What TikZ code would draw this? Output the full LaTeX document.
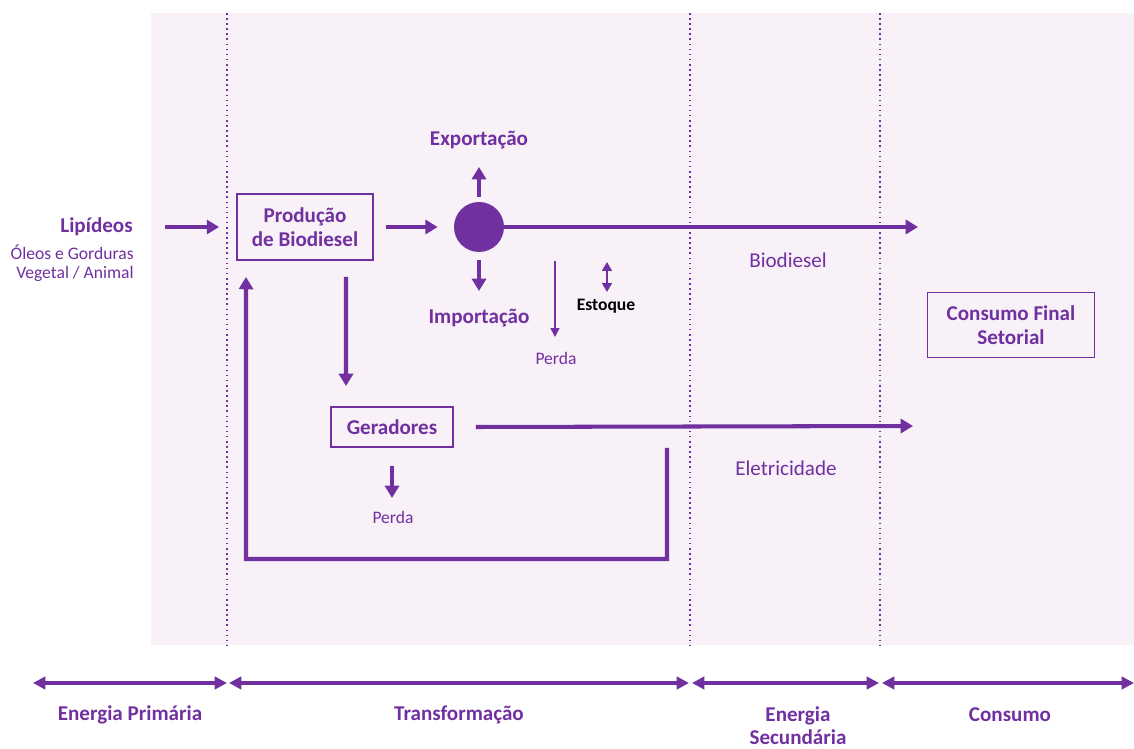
\documentclass[tikz,border=0pt]{standalone}
\usepackage{fontspec}
\setmainfont{Carlito}
\usetikzlibrary{arrows.meta}
\definecolor{vio}{HTML}{7030A0}
\definecolor{panel}{HTML}{F8F1F8}
\begin{document}
\begin{tikzpicture}[x=0.02cm,y=-0.02cm,
  flow/.style={vio, line width=2.3pt, -{Triangle[length=7pt,width=8pt]}},
  thinflow/.style={vio, line width=0.9pt, -{Triangle[length=5pt,width=5pt]}},
  span/.style={vio, line width=1.8pt, {Triangle[length=7pt,width=7pt]}-{Triangle[length=7pt,width=7pt]}},
  stagebox/.style={draw=vio, line width=1.1pt, text=vio, font=\bfseries\large, align=center, inner sep=0pt},
  lab/.style={text=vio, font=\bfseries\large, align=center, inner sep=0pt},
  small/.style={text=vio, font=\normalsize, align=center, inner sep=0pt}
]
\useasboundingbox (0,0) rectangle (1134,749);
% shaded area and stage dividers
\fill[panel] (151,13) rectangle (1134,645);
\foreach \x in {227,690,880}
  \draw[vio, dotted, line width=0.9pt] (\x,13) -- (\x,645);

% primary source
\node[lab, anchor=east] (lip) at (133,227) {Lipídeos};
\node[small, anchor=east, align=right] (oleos) at (134,263) {Óleos e Gorduras\\[-1pt]Vegetal / Animal};

% boxes
\node[stagebox, minimum width=2.72cm, minimum height=1.32cm] (prod) at (305,227) {Produção\\de Biodiesel};
\node[stagebox, minimum width=2.44cm, minimum height=0.8cm] (ger) at (392,427) {Geradores};
\node[stagebox, minimum width=3.34cm, minimum height=1.3cm] (cons) at (1011,325) {Consumo Final\\Setorial};

% distribution hub
\node[circle, fill=vio, minimum size=1cm, inner sep=0pt] (hub) at (479,227) {};

% labels
\node[lab] (exp) at (479,140) {Exportação};
\node[lab] (imp) at (479,318) {Importação};
\node[small] (perda1) at (556,358) {Perda};
\node[text=black, font=\bfseries\normalsize, inner sep=0pt] (est) at (606,306) {Estoque};
\node[small, font=\large] (bio) at (788,260) {Biodiesel};
\node[small, font=\large] (ele) at (786,468) {Eletricidade};
\node[small] (perda2) at (393,517) {Perda};

% free ends of the flows
\coordinate (bioT) at (918,227);
\coordinate (expS) at (479,197);
\coordinate (expT) at (479,167);
\coordinate (impS) at (479,260);
\coordinate (impT) at (479,291);
\coordinate (pS) at (555,261);
\coordinate (pT) at (555,337);
\coordinate (eS) at (607,262);
\coordinate (eT) at (607,292);
\coordinate (gT) at (913,426);
\coordinate (fbA) at (667,448);
\coordinate (fbB) at (667,559);
\coordinate (fbC) at (246,559);

% flows
\draw[flow] ([xshift=0.64cm]lip.east) -- ([xshift=-0.34cm]prod.west);
\draw[flow] ([xshift=0.24cm]prod.east) -- ([xshift=-0.32cm]hub.west);
\draw[flow] (hub.east) -- (bioT);
\draw[flow] (expS) -- (expT);
\draw[flow] (impS) -- (impT);
\draw[thinflow] (pS) -- (pT);
\draw[vio, line width=1.1pt, {Triangle[length=5pt,width=5.5pt]}-{Triangle[length=5pt,width=5.5pt]}] (eS) -- (eT);
\draw[flow] ([xshift=0.82cm,yshift=-0.32cm]prod.south) -- ([xshift=-0.92cm,yshift=0.4cm]ger.north);
\draw[flow] ([xshift=0.44cm]ger.east) -- (gT);
\draw[flow] ([yshift=-0.36cm]ger.south) -- ([yshift=-1cm]ger.south);
\draw[flow, line join=miter] (fbA) -- (fbB) -- (fbC) -- ([xshift=-1.18cm,yshift=-0.32cm]prod.south);

% stage scale
\coordinate (s0) at (33,683);
\coordinate (s1) at (227,683);
\coordinate (s1b) at (229,683);
\coordinate (s2) at (689,683);
\coordinate (s2b) at (692,683);
\coordinate (s3) at (879,683);
\coordinate (s3b) at (882,683);
\coordinate (s4) at (1134,683);
\draw[span] (s0) -- (s1);
\draw[span] (s1b) -- (s2);
\draw[span] (s2b) -- (s3);
\draw[span] (s3b) -- (s4);
\node[lab] (st1) at (130,715) {Energia Primária};
\node[lab] (st2) at (459,715) {Transformação};
\node[lab, font=\bfseries\large\linespread{0.95}\selectfont] (st3) at (798,726) {Energia\\Secundária};
\node[lab] (st4) at (1010,715) {Consumo};
\end{tikzpicture}
\end{document}
